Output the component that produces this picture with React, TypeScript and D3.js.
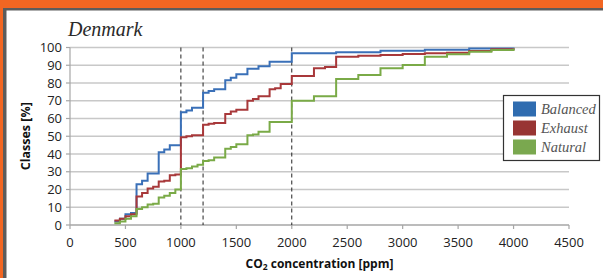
import React from "react";
import * as d3 from "d3";

const W = 603;
const H = 278;

const seriesNames = ["Balanced", "Exhaust", "Natural"];
const seriesColors = ["#3a70b8", "#a8383a", "#7aaa47"];
const swatchColors = ["#2f6cb0", "#983533", "#7aa84f"];

const balancedX = [400, 450, 500, 550, 600, 650, 700, 800, 850, 900, 1000, 1050, 1100, 1200, 1250, 1300, 1400, 1450, 1500, 1600, 1700, 1800, 2000, 2400, 2800, 3200, 3600, 4000];
const balancedY = [2, 3.5, 6, 6.8, 23, 25, 29, 41, 42.5, 45, 63.5, 64.5, 66, 74.5, 75.5, 76.5, 81.5, 83, 85, 88, 89.5, 92, 96.8, 97.3, 98.2, 98.8, 99.4, 100];

const exhaustX = [400, 450, 500, 550, 600, 650, 700, 750, 800, 850, 900, 950, 1000, 1050, 1100, 1200, 1250, 1300, 1400, 1450, 1500, 1600, 1650, 1700, 1800, 1850, 1900, 2000, 2200, 2300, 2400, 2600, 2800, 3000, 3200, 3400, 3600, 3800, 4000];
const exhaustY = [2.5, 3.5, 5, 6, 16, 18, 20.5, 21.5, 24.5, 25, 28, 28.5, 49.5, 50, 50.5, 56.5, 57, 57.5, 62.5, 64, 65, 70, 71, 72.5, 76.5, 77, 79.5, 84, 88.3, 89, 94.8, 95.3, 95.8, 96.3, 96.7, 97, 98, 99, 99.6];

const naturalX = [400, 450, 500, 550, 600, 650, 700, 750, 800, 850, 900, 950, 1000, 1050, 1100, 1150, 1200, 1250, 1300, 1400, 1450, 1500, 1600, 1650, 1700, 1800, 2000, 2200, 2400, 2600, 2800, 3000, 3200, 3400, 3600, 3800, 4000];
const naturalY = [1, 2, 3.5, 5, 9, 10, 11.5, 12, 15.5, 16.5, 18, 20, 31.5, 32, 33, 34, 36, 36.5, 38, 43, 44, 45.5, 50.5, 51, 52.5, 58, 70, 72.5, 82.3, 84.5, 88.3, 90.1, 94.8, 96.2, 97.6, 98.6, 99.5];

const xTicks = [0, 500, 1000, 1500, 2000, 2500, 3000, 3500, 4000, 4500];
const yTicks = [0, 10, 20, 30, 40, 50, 60, 70, 80, 90, 100];
const refLines = [1000, 1200, 2000];

const seriesX = [balancedX, exhaustX, naturalX];
const seriesY = [balancedY, exhaustY, naturalY];

export default function App() {
  const left = 70, right = 569, top = 47.5, bottom = 225;
  const x = d3.scaleLinear().domain([0, 4500]).range([left, right]);
  const y = d3.scaleLinear().domain([0, 100]).range([bottom, top]);
  const line = d3
    .line<[number, number]>()
    .x((d) => x(d[0]))
    .y((d) => y(d[1]))
    .curve(d3.curveStepAfter);

  const tickFont = "'Open Sans', 'DejaVu Sans', sans-serif";

  return (
    <svg
      width={W}
      height={H}
      style={{ position: "absolute", left: 0, top: 0, display: "block" }}
    >
      <rect x={0} y={0} width={W} height={H} fill="#f26622" />
      <rect x={3} y={8} width={W - 3} height={H - 8} fill="#5c5c5c" />
      <rect x={6.5} y={10.5} width={W - 6.5} height={H - 10.5} fill="#ffffff" />

      <text
        x={68}
        y={36}
        fontFamily="'Liberation Serif', 'DejaVu Serif', serif"
        fontStyle="italic"
        fontSize={20}
        fill="#2a2a2a"
      >
        Denmark
      </text>

      {yTicks.map((t) => (
        <g key={"gy" + t}>
          <line
            x1={left}
            x2={right}
            y1={y(t)}
            y2={y(t)}
            stroke={t === 0 ? "#a6a6a6" : "#c8c8c8"}
            strokeWidth={1.5}
          />
          <line x1={left - 4} x2={left} y1={y(t)} y2={y(t)} stroke="#a6a6a6" strokeWidth={1.2} />
          <text
            x={left - 8}
            y={y(t)}
            dy="0.36em"
            textAnchor="end"
            fontFamily={tickFont}
            fontSize={13}
            fill="#222"
          >
            {t}
          </text>
        </g>
      ))}
      <line x1={left} x2={left} y1={top} y2={bottom} stroke="#a6a6a6" strokeWidth={1.2} />

      {xTicks.map((t) => (
        <g key={"gx" + t}>
          <line x1={x(t)} x2={x(t)} y1={bottom} y2={bottom + 4} stroke="#a6a6a6" strokeWidth={1.2} />
          <text
            x={x(t)}
            y={247}
            textAnchor="middle"
            fontFamily={tickFont}
            fontSize={13}
            fill="#222"
          >
            {t}
          </text>
        </g>
      ))}

      {refLines.map((r) => (
        <line
          key={"r" + r}
          x1={x(r)}
          x2={x(r)}
          y1={y(100)}
          y2={y(0)}
          stroke="#222"
          strokeWidth={1}
          strokeDasharray="4,3"
        />
      ))}

      {seriesNames.map((name, i) => {
        const pts: [number, number][] = seriesX[i].map((v, j) => [v, seriesY[i][j]]);
        return (
          <path
            key={name}
            d={line(pts) || ""}
            fill="none"
            stroke={seriesColors[i]}
            strokeWidth={2}
          />
        );
      })}

      <text
        x={(left + right) / 2}
        y={268}
        textAnchor="middle"
        fontFamily={tickFont}
        fontWeight="bold"
        fontSize={12}
        fill="#111"
      >
        CO<tspan fontSize={8.5} dy={2}>2</tspan>
        <tspan dy={-2}> concentration [ppm]</tspan>
      </text>

      <text
        transform={`translate(30, ${(top + bottom) / 2}) rotate(-90)`}
        textAnchor="middle"
        fontFamily={tickFont}
        fontWeight="bold"
        fontSize={12.5}
        fill="#111"
      >
        Classes [%]
      </text>

      <rect x={503.5} y={95.5} width={96} height={65} fill="#fff" stroke="#333" strokeWidth={1.2} />
      {seriesNames.map((name, i) => (
        <g key={"lg" + name} transform={`translate(513, ${101.5 + i * 19})`}>
          <rect x={0} y={0} width={23} height={15} fill={swatchColors[i]} />
          <text
            x={28}
            y={12}
            fontFamily="'Liberation Serif', 'DejaVu Serif', serif"
            fontStyle="italic"
            fontSize={14.5}
            fill="#555"
          >
            {name}
          </text>
        </g>
      ))}
    </svg>
  );
}
